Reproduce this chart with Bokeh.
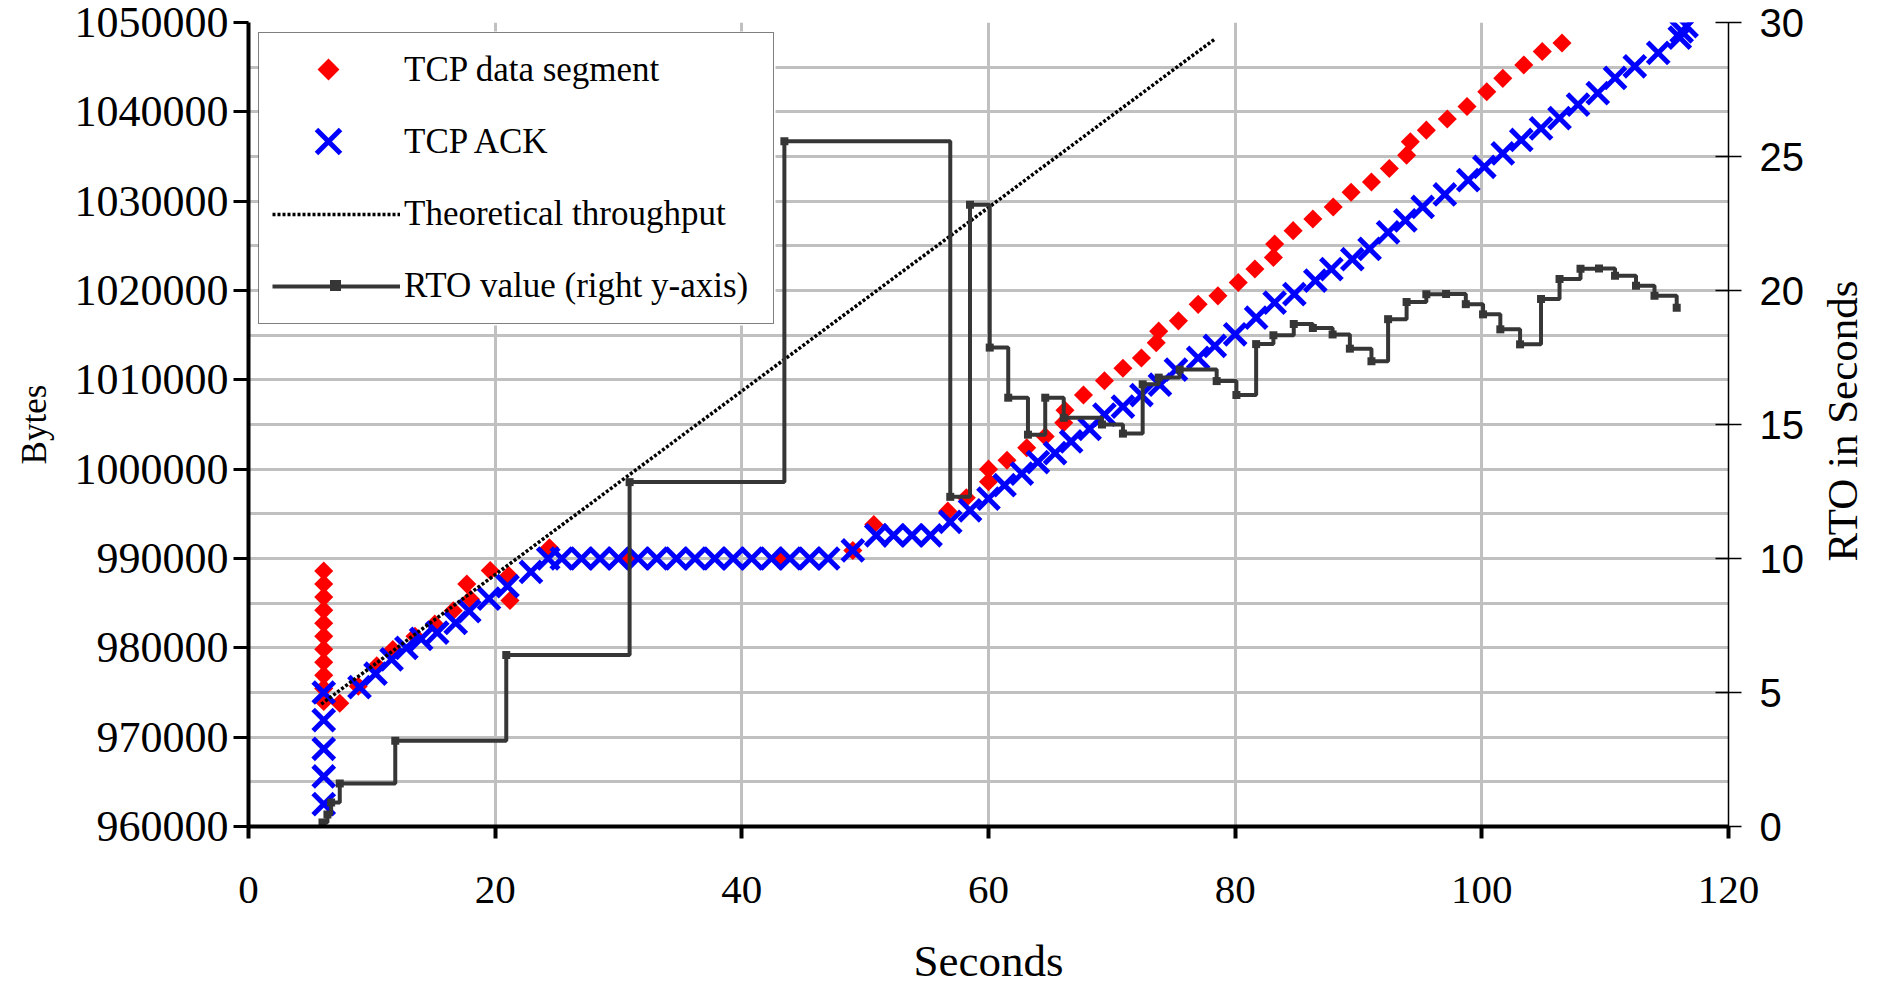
import math
from bokeh.plotting import figure
from bokeh.layouts import row
from bokeh.models import (Range1d, LinearAxis, FixedTicker, BasicTickFormatter,
                          Legend, LegendItem)
from bokeh.core.properties import value
from bokeh.embed import file_html
from bokeh.resources import INLINE

# ---------------- data ----------------
# TCP data segments: time (s), sequence (bytes)
seg_t = [6.1, 6.1, 6.1, 6.1, 6.1, 6.1, 6.1, 6.1, 6.1, 6.1, 6.1,
         7.4, 8.9, 10.4, 11.7, 13.5, 15.1, 16.6, 17.7, 18.0, 19.6,
         21.1, 21.2, 24.4, 30.6, 43.2, 49.0, 50.7, 56.7, 58.2, 60.0,
         60.0, 61.5, 63.1, 64.6, 66.1, 66.2, 67.7, 69.4, 70.9, 72.4,
         73.6, 73.8, 75.4, 77.0, 78.6, 80.25, 81.6, 83.1, 83.2, 84.7,
         86.3, 87.95, 89.4, 91.05, 92.5, 93.9, 94.2, 95.5, 97.2, 98.8,
         100.4, 101.7, 103.4, 104.9, 106.5]
seg_b = [974000, 975460, 976920, 978380, 979840, 981300, 982760, 984220, 985680, 987140, 988600,
         973800, 975700, 978000, 979800, 981300, 982650, 984150, 987150, 985450, 988650,
         988100, 985300, 991200, 990000, 990000, 990900, 993800, 995300, 996800, 998600,
         1000000, 1001000, 1002400, 1003650, 1005200, 1006600, 1008300, 1009900, 1011300, 1012450,
         1014150, 1015450, 1016600, 1018450, 1019400, 1020900, 1022400, 1023700, 1025200, 1026700,
         1028000, 1029350, 1031000, 1032150, 1033650, 1035150, 1036650, 1037950, 1039200, 1040600,
         1042250, 1043750, 1045250, 1046750, 1047700]

# TCP ACKs: time (s), acknowledged bytes
ack_t = [6.1, 6.1, 6.1, 6.1, 6.1,
         9.0, 10.3, 11.6, 12.8, 14.0, 15.3, 16.8, 17.9, 19.5, 21.0, 22.9, 24.3,
         25.4, 27.0, 28.5, 30.0, 31.6, 33.1, 34.7, 36.2, 37.8, 39.3, 40.8, 42.4, 43.9, 45.5, 47.0,
         49.0, 50.9, 52.3, 53.8, 55.3,
         56.9, 58.5, 60.0, 61.3, 62.7, 64.0, 65.4, 66.7, 68.2, 69.4,
         70.9, 72.4, 73.9, 75.2, 77.0, 78.35, 80.0, 81.7, 83.2, 84.8,
         86.5, 87.8, 89.5, 90.9, 92.4, 93.8, 95.2, 97.0, 98.9, 100.2,
         101.7, 103.2, 104.8, 106.3, 107.8, 109.4, 110.8, 112.4, 114.3, 116.05,
         116.2, 116.6]
ack_b = [962500, 965600, 968700, 971900, 975000,
         975600, 977100, 978700, 980000, 981000, 981700, 982800, 984100, 985500, 986900, 988500, 990000,
         990000, 990000, 990000, 990000, 990000, 990000, 990000, 990000, 990000, 990000, 990000,
         990000, 990000, 990000, 990000,
         990900, 992600, 992600, 992600, 992600,
         994100, 995400, 996700, 998200, 999500, 1000800, 1001800, 1003100, 1004500, 1006100,
         1007000, 1008300, 1009450, 1011150, 1012450, 1013800, 1015100, 1016950, 1018650, 1019600,
         1021100, 1022400, 1023500, 1024650, 1026500, 1027850, 1029350, 1030750, 1032350, 1033850,
         1035350, 1036850, 1038150, 1039300, 1040800, 1042100, 1043800, 1045100, 1046600, 1048300,
         1049000, 1049600]

# Theoretical throughput (start / end)
theo_t = [5.9, 78.3]
theo_b = [973700, 1048100]

# RTO value (seconds), step changes
rto_t = [6.0, 6.4, 6.7, 7.4, 11.9, 20.9, 30.9, 43.45, 56.9, 58.5,
         60.1, 61.6, 63.2, 64.6, 66.1, 69.2, 70.9, 72.5, 73.8, 75.5,
         78.5, 80.1, 81.7, 83.1, 84.75, 86.3, 87.9, 89.3, 91.05, 92.4,
         93.9, 95.5, 97.1, 98.7, 100.1, 101.5, 103.1, 104.8, 106.3, 108.0,
         109.5, 110.8, 112.5, 114.0, 115.8]
rto_v = [0.15, 0.45, 0.9, 1.6, 3.2, 6.4, 12.85, 25.57, 12.3, 23.2,
         17.87, 16.0, 14.62, 16.0, 15.25, 15.0, 14.66, 16.5, 16.75, 17.05,
         16.62, 16.1, 18.0, 18.33, 18.75, 18.6, 18.36, 17.83, 17.36, 18.93,
         19.57, 19.86, 19.87, 19.49, 19.11, 18.55, 17.99, 19.68, 20.43, 20.81,
         20.82, 20.55, 20.18, 19.8, 19.36]

# ticks
x_ticks = [0, 20, 40, 60, 80, 100, 120]
y_ticks = [960000, 970000, 980000, 990000, 1000000, 1010000, 1020000, 1030000, 1040000, 1050000]
y_grid = [960000, 965000, 970000, 975000, 980000, 985000, 990000, 995000, 1000000, 1005000,
          1010000, 1015000, 1020000, 1025000, 1030000, 1035000, 1040000, 1045000, 1050000]
rto_ticks = [0, 5, 10, 15, 20, 25, 30]
legend_labels = ["TCP data segment", "TCP ACK", "Theoretical throughput", "RTO value (right y-axis)"]
right_title = "RTO in Seconds"

SERIF = "Liberation Serif"
SANS = "Liberation Sans"

FW, FH = 1480, 804
BL, BR, BT, BB = 248, 85, 22, 159
TOTAL_H = BT + FH + BB
SIDE_W = 68
X0, X1 = 0, 120
Y0, Y1 = 960000, 1050000
R0, R1 = 0, 30

# legend geometry (pixels)
LG_MARGIN, LG_PAD, LG_SPACING = 10, 13, 24
LG_GW, LG_GH, LG_STANDOFF, LG_LW = 128, 48, 4, 356
KEY_SHIFT = -7


def px_to_x(px):
    return X0 + (px - BL) / FW * (X1 - X0)


def py_to_y(py, lo, hi):
    return lo + (BT + FH - py) / FH * (hi - lo)


# ---------------- main figure ----------------
p = figure(frame_width=FW, frame_height=FH,
           x_range=Range1d(X0, X1), y_range=Range1d(Y0, Y1),
           output_backend="svg", toolbar_location=None,
           min_border_left=BL, min_border_right=BR,
           min_border_top=BT, min_border_bottom=BB,
           x_axis_label="Seconds", y_axis_label="Bytes")
p.extra_y_ranges = {"rto": Range1d(R0, R1)}
p.outline_line_color = None
p.background_fill_color = "white"
p.border_fill_color = "white"

# grid
p.xgrid.ticker = FixedTicker(ticks=[t for t in x_ticks if X0 < t < X1])
p.ygrid.ticker = FixedTicker(ticks=y_grid)
for g in (p.xgrid, p.ygrid):
    g.grid_line_color = "#C0C0C0"
    g.grid_line_width = 3

# bottom axis
xa = p.xaxis[0]
xa.ticker = FixedTicker(ticks=x_ticks)
xa.axis_line_width = 4
xa.axis_line_color = "black"
xa.major_tick_line_width = 4
xa.major_tick_line_color = "black"
xa.major_tick_out = 12
xa.major_tick_in = 0
xa.minor_tick_line_color = None
xa.major_label_text_font = SERIF
xa.major_label_text_font_size = "41px"
xa.major_label_text_color = "black"
xa.major_label_standoff = 38
xa.axis_label_text_font = SERIF
xa.axis_label_text_font_size = "45px"
xa.axis_label_text_font_style = "normal"
xa.axis_label_text_color = "black"
xa.axis_label_standoff = 30

# left axis
ya = p.yaxis[0]
ya.ticker = FixedTicker(ticks=y_ticks)
ya.formatter = BasicTickFormatter(use_scientific=False)
ya.axis_line_width = 4
ya.axis_line_color = "black"
ya.major_tick_line_width = 3
ya.major_tick_line_color = "black"
ya.major_tick_out = 15
ya.major_tick_in = 0
ya.minor_tick_line_color = None
ya.major_label_text_font = SERIF
ya.major_label_text_font_size = "44px"
ya.major_label_text_color = "black"
ya.major_label_standoff = 5
ya.axis_label_text_font = SERIF
ya.axis_label_text_font_size = "35px"
ya.axis_label_text_font_style = "normal"
ya.axis_label_text_color = "black"
ya.axis_label_standoff = 18

# right axis (its title is drawn in the side strip so it reads bottom-to-top)
ra = LinearAxis(y_range_name="rto", ticker=FixedTicker(ticks=rto_ticks))
ra.axis_line_width = 1.5
ra.axis_line_color = "black"
ra.major_tick_line_width = 1.5
ra.major_tick_line_color = "black"
ra.major_tick_out = 13
ra.major_tick_in = 13
ra.minor_tick_line_color = None
ra.major_label_text_font = SANS
ra.major_label_text_font_size = "40px"
ra.major_label_text_color = "black"
ra.major_label_standoff = 18
p.add_layout(ra, "right")

# ---------------- legend backdrop (white panel hiding the grid) ----------------
lg_left = BL + LG_MARGIN
lg_top = BT + LG_MARGIN
lg_w = 2 * LG_PAD + LG_GW + LG_STANDOFF + LG_LW
lg_h = 2 * LG_PAD + 4 * LG_GH + 3 * LG_SPACING
p.quad(left=[px_to_x(lg_left)], right=[px_to_x(lg_left + lg_w + 3)],
       top=[py_to_y(lg_top - 1, Y0, Y1)], bottom=[py_to_y(lg_top + lg_h + 3, Y0, Y1)],
       fill_color="white", line_color=None)

# ---------------- data glyphs ----------------
RED, BLUE, DARK = "#FF0000", "#0000FF", "#363636"
p.scatter(seg_t, seg_b, marker="square", angle=math.pi / 4, size=13.5,
          fill_color=RED, line_color=None)
p.scatter(ack_t, ack_b, marker="x", size=30, line_color=BLUE, line_width=5)
r_theo = p.line(theo_t, theo_b, line_color="black", line_width=3.5, line_dash="3 2")
r_rto = p.step(rto_t, rto_v, mode="after", y_range_name="rto",
               line_color=DARK, line_width=4)
p.scatter(rto_t, rto_v, marker="square", size=8, y_range_name="rto",
          fill_color=DARK, line_color=None)

# legend keys for the markers, drawn at the legend's glyph slots
row_cy = [lg_top + LG_PAD + LG_GH / 2 + i * (LG_GH + LG_SPACING) for i in range(4)]
kx_marker = [px_to_x(lg_left + LG_PAD + LG_GW / 2 + KEY_SHIFT)]
kx_line = [px_to_x(lg_left + LG_PAD + LG_GW / 2)]
p.scatter(kx_marker, [py_to_y(row_cy[0], Y0, Y1)], marker="square", angle=math.pi / 4,
          size=15.5, fill_color=RED, line_color=None, level="annotation")
p.scatter(kx_marker, [py_to_y(row_cy[1], Y0, Y1)], marker="x", size=34,
          line_color=BLUE, line_width=5, level="annotation")
p.scatter(kx_line, [py_to_y(row_cy[3], R0, R1)], marker="square", size=11,
          y_range_name="rto", fill_color=DARK, line_color=None, level="annotation")

# invisible proxies so that the marker rows have a legend entry
hid_x = [-500]
hid_y = [500000]
leg_seg = p.scatter(hid_x, hid_y, marker="diamond", fill_alpha=0, line_alpha=0)
leg_ack = p.scatter(hid_x, hid_y, marker="x", fill_alpha=0, line_alpha=0)

legend = Legend(items=[
    LegendItem(label=legend_labels[0], renderers=[leg_seg]),
    LegendItem(label=legend_labels[1], renderers=[leg_ack]),
    LegendItem(label=legend_labels[2], renderers=[r_theo]),
    LegendItem(label=legend_labels[3], renderers=[r_rto]),
], location="top_left")
legend.margin = LG_MARGIN
legend.padding = LG_PAD
legend.spacing = LG_SPACING
legend.glyph_width = LG_GW
legend.glyph_height = LG_GH
legend.label_height = LG_GH
legend.label_width = LG_LW
legend.label_standoff = LG_STANDOFF
legend.label_text_font = SERIF
legend.label_text_font_size = "35px"
legend.label_text_color = "black"
legend.border_line_color = "black"
legend.border_line_width = 1.5
legend.background_fill_alpha = 0.0
p.add_layout(legend)

# ---------------- side strip with the right-axis title ----------------
q = figure(width=SIDE_W, height=TOTAL_H,
           x_range=Range1d(0, SIDE_W), y_range=Range1d(0, TOTAL_H),
           output_backend="svg", toolbar_location=None,
           x_axis_location=None, y_axis_location=None,
           min_border=0)
q.outline_line_color = None
q.background_fill_color = "white"
q.border_fill_color = "white"
q.xgrid.visible = False
q.ygrid.visible = False
q.text(x=[29], y=[495], text=[right_title], angle=math.pi / 2,
       text_align="center", text_baseline="middle",
       text_font=value(SERIF), text_font_size=value("43px"), text_color="black")

layout = row(p, q, spacing=0)
open("out.html", "w").write(file_html(layout, INLINE))
